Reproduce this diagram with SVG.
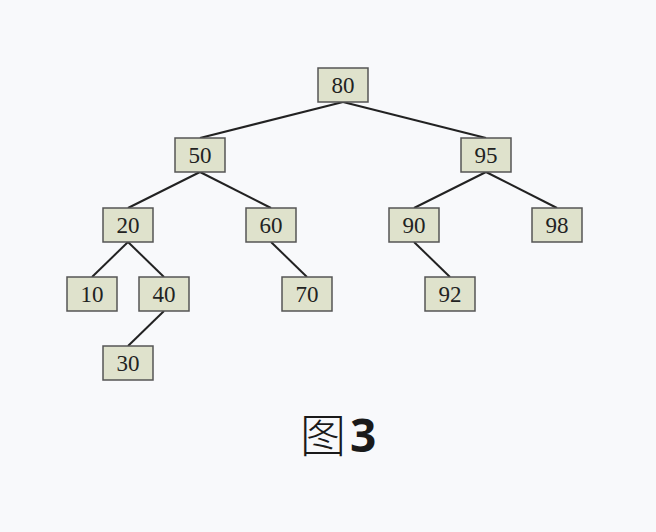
<svg xmlns="http://www.w3.org/2000/svg" width="656" height="532" viewBox="0 0 656 532">
<style>
.n rect{fill:#dfe2cc;stroke:#555;stroke-width:1.5}
.n text{font-family:"Liberation Serif","DejaVu Serif",serif;font-size:23px;fill:#222;text-anchor:middle;dominant-baseline:central}
.e line{stroke:#222;stroke-width:2}
</style>
<rect width="656" height="532" fill="#f8f9fb"/>
<g id="edges" class="e">
<line x1="343" y1="102" x2="200" y2="138"/>
<line x1="343" y1="102" x2="486" y2="138"/>
<line x1="200" y1="172" x2="128" y2="208"/>
<line x1="200" y1="172" x2="271" y2="208"/>
<line x1="486" y1="172" x2="414" y2="208"/>
<line x1="486" y1="172" x2="557" y2="208"/>
<line x1="128" y1="242" x2="92" y2="277"/>
<line x1="128" y1="242" x2="164" y2="277"/>
<line x1="271" y1="242" x2="307" y2="277"/>
<line x1="414" y1="242" x2="450" y2="277"/>
<line x1="164" y1="311" x2="128" y2="346"/>
</g>
<g id="n80" class="n"><rect x="318" y="68" width="50" height="34"/><text x="343" y="85">80</text></g>
<g id="n50" class="n"><rect x="175" y="138" width="50" height="34"/><text x="200" y="155">50</text></g>
<g id="n95" class="n"><rect x="461" y="138" width="50" height="34"/><text x="486" y="155">95</text></g>
<g id="n20" class="n"><rect x="103" y="208" width="50" height="34"/><text x="128" y="225">20</text></g>
<g id="n60" class="n"><rect x="246" y="208" width="50" height="34"/><text x="271" y="225">60</text></g>
<g id="n90" class="n"><rect x="389" y="208" width="50" height="34"/><text x="414" y="225">90</text></g>
<g id="n98" class="n"><rect x="532" y="208" width="50" height="34"/><text x="557" y="225">98</text></g>
<g id="n10" class="n"><rect x="67" y="277" width="50" height="34"/><text x="92" y="294">10</text></g>
<g id="n40" class="n"><rect x="139" y="277" width="50" height="34"/><text x="164" y="294">40</text></g>
<g id="n70" class="n"><rect x="282" y="277" width="50" height="34"/><text x="307" y="294">70</text></g>
<g id="n92" class="n"><rect x="425" y="277" width="50" height="34"/><text x="450" y="294">92</text></g>
<g id="n30" class="n"><rect x="103" y="346" width="50" height="34"/><text x="128" y="363">30</text></g>
<text x="300" y="452" font-size="46" fill="#1a1a1a"><tspan font-family="'Noto Sans CJK SC',sans-serif" font-weight="300">图</tspan><tspan font-family="'Noto Sans','Open Sans',sans-serif" font-weight="bold" dx="4">3</tspan></text>
</svg>
